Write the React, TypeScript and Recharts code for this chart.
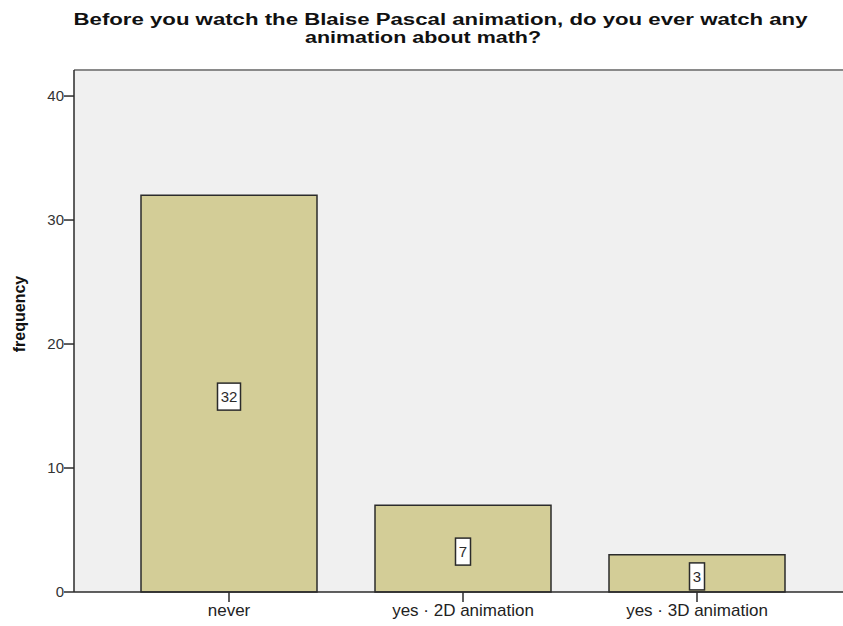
import { Bar, BarChart, CartesianGrid, LabelList, ReferenceLine, XAxis, YAxis } from "recharts"

const categories = ["never", "yes · 2D animation", "yes · 3D animation"]
const frequencies = [32, 7, 3]
const yTicks = [0, 10, 20, 30, 40]
const titleLines = [
  "Before you watch the Blaise Pascal animation, do you ever watch any",
  "animation about math?",
]
const yMax = 42.1

const data = categories.map((name, i) => ({ name, value: frequencies[i] }))

const FONT = "'Liberation Sans', Arial, sans-serif"
const BAR_FILL = "#D3CD97"
const INK = "#2b2b2b"

function ValueBox(props: any) {
  const { x, y, width, height, value } = props
  const text = String(value)
  const boxW = text.length * 8 + 7
  const boxH = 27
  const cx = Number(x) + Number(width) / 2
  const bottom = Number(y) + Number(height)
  // box sits a little under the middle of the bar, but never past the axis
  const cy = Math.min(Number(y) + Number(height) / 2 + 3, bottom - boxH / 2)
  return (
    <g>
      <rect
        x={cx - boxW / 2}
        y={cy - boxH / 2}
        width={boxW}
        height={boxH}
        fill="#fff"
        stroke={INK}
        strokeWidth={1.5}
      />
      <text
        x={cx}
        y={cy}
        textAnchor="middle"
        dominantBaseline="central"
        fontSize={15}
        fontFamily={FONT}
        fill={INK}
      >
        {text}
      </text>
    </g>
  )
}

export default function App() {
  return (
    <div
      style={{
        position: "absolute",
        left: 0,
        top: 0,
        width: 843,
        height: 626,
        overflow: "hidden",
        background: "#fff",
      }}
    >
      <BarChart
        width={852}
        height={626}
        data={data}
        margin={{ top: 70, right: 0, bottom: 0, left: 0 }}
        style={{ fontFamily: FONT }}
      >
        <CartesianGrid fill="#F0F0F0" stroke="none" horizontal={false} vertical={false} />
        <XAxis
          dataKey="name"
          height={34}
          interval={0}
          padding={{ left: 38, right: 38 }}
          tickSize={10}
          axisLine={{ stroke: INK, strokeWidth: 1.5 }}
          tickLine={{ stroke: INK, strokeWidth: 1.5 }}
          tick={{ fill: "#222", fontSize: 17, fontFamily: FONT }}
        />
        <YAxis
          width={74}
          domain={[0, yMax]}
          ticks={yTicks}
          tickSize={10}
          tickMargin={0}
          axisLine={{ stroke: INK, strokeWidth: 1.5 }}
          tickLine={{ stroke: INK, strokeWidth: 1.5 }}
          tick={{ fill: "#333", fontSize: 15, fontFamily: FONT }}
          label={{
            content: () => (
              <text
                transform="translate(19, 314) rotate(-90)"
                textAnchor="middle"
                dominantBaseline="central"
                fontSize={16}
                fontWeight="bold"
                fontFamily={FONT}
                fill="#111"
              >
                frequency
              </text>
            ),
          }}
        />
        <ReferenceLine y={yMax} stroke="#8a8a8a" strokeWidth={2} />
        <Bar
          dataKey="value"
          barSize={176}
          fill={BAR_FILL}
          stroke={INK}
          strokeWidth={1.5}
          isAnimationActive={false}
        >
          <LabelList dataKey="value" content={(p: any) => <ValueBox {...p} />} />
        </Bar>
      </BarChart>
      <svg
        width={843}
        height={64}
        style={{ position: "absolute", left: 0, top: 0 }}
      >
        <text
          x={73.5}
          y={25}
          textLength={734}
          lengthAdjust="spacingAndGlyphs"
          fontSize={16}
          fontWeight="bold"
          fontFamily={FONT}
          fill="#111"
        >
          {titleLines[0]}
        </text>
        <text
          x={305}
          y={43}
          textLength={236}
          lengthAdjust="spacingAndGlyphs"
          fontSize={16}
          fontWeight="bold"
          fontFamily={FONT}
          fill="#111"
        >
          {titleLines[1]}
        </text>
      </svg>
    </div>
  )
}
